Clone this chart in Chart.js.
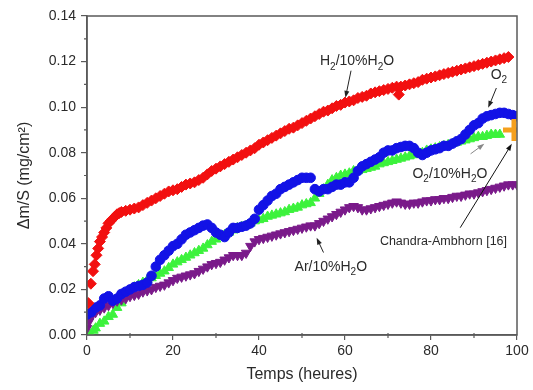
<!DOCTYPE html>
<html>
<head>
<meta charset="utf-8">
<script src="https://cdn.jsdelivr.net/npm/chart.js@4.4.1/dist/chart.umd.min.js"></script>
<style>
  html, body { margin: 0; padding: 0; background: #fff; }
  #wrap { width: 533px; height: 390px; }
</style>
</head>
<body>
<div id="wrap"><canvas id="chart" width="533" height="390"></canvas></div>
<script>
// [hours, mass gain mg/cm2]
const h2Points = [
  [0.3,0.014],[0.9,0.0225],[1.4,0.028],[1.8,0.031],[2.2,0.035],[2.6,0.038],[3,0.041],[3.5,0.043],
  [4,0.045],[4.5,0.047],[5,0.049],[5.5,0.05],[6,0.051],[6.5,0.052],[7,0.053],[7.5,0.0535],[8,0.054],
  [9,0.0545],[10,0.055],[11,0.0555],[12,0.056],[13,0.057],[14,0.058],[15,0.059],[16,0.06],[17,0.061],
  [18,0.062],[19,0.063],[20,0.0635],[21,0.064],[22,0.065],[23,0.066],[24,0.0665],[25,0.067],[26,0.068],
  [27,0.069],[28,0.0705],[29,0.072],[30,0.073],[31,0.074],[32,0.075],[33,0.076],[34,0.077],[35,0.078],
  [36,0.079],[37,0.08],[38,0.081],[39,0.082],[40,0.0835],[41,0.0845],[42,0.0855],[43,0.0865],[44,0.0875],
  [45,0.0885],[46,0.0895],[47,0.0905],[48,0.091],[49,0.092],[50,0.093],[51,0.094],[52,0.095],[53,0.096],
  [54,0.097],[55,0.098],[56,0.0985],[57,0.0995],[58,0.1005],[59,0.101],[60,0.102],[61,0.1025],[62,0.103],
  [63,0.104],[64,0.1045],[65,0.105],[66,0.106],[67,0.1065],[68,0.107],[69,0.1075],[70,0.108],[71,0.1085],
  [72,0.109],[72.5,0.1055],[73,0.109],[74,0.1095],[75,0.11],[76,0.1105],[77,0.111],[78,0.112],[79,0.1125],
  [80,0.113],[81,0.1135],[82,0.114],[83,0.1145],[84,0.115],[85,0.1155],[86,0.116],[87,0.1165],[88,0.117],
  [89,0.1175],[90,0.118],[91,0.1185],[92,0.119],[93,0.1195],[94,0.12],[95,0.1205],[96,0.121],[97,0.1215],[98,0.122]
];

const o2Points = [
  [0,0.009],[1,0.01],[2,0.012],[3,0.013],[4,0.016],[5,0.017],[6,0.015],[7,0.016],[8,0.018],[9,0.019],
  [10,0.02],[11,0.021],[12,0.0215],[13,0.022],[14,0.023],[15,0.026],[16,0.03],[17,0.033],[18,0.035],
  [19,0.037],[20,0.039],[21,0.04],[22,0.042],[23,0.044],[24,0.045],[25,0.046],[26,0.047],[27,0.048],
  [28,0.0485],[29,0.047],[30,0.045],[31,0.044],[32,0.043],[33,0.045],[34,0.047],[35,0.047],[36,0.0475],
  [37,0.048],[38,0.049],[39,0.051],[40,0.055],[41,0.057],[42,0.059],[43,0.061],[44,0.062],[45,0.064],
  [46,0.065],[47,0.066],[48,0.067],[49,0.068],[50,0.069],[51,0.069],[52,0.069],[53,0.064],[54,0.063],
  [55,0.064],[56,0.064],[57,0.065],[58,0.066],[59,0.066],[60,0.067],[61,0.067],[62,0.069],[63,0.072],
  [64,0.074],[65,0.075],[66,0.076],[67,0.077],[68,0.078],[69,0.08],[70,0.081],[71,0.081],[72,0.082],
  [73,0.0825],[74,0.083],[75,0.083],[76,0.082],[77,0.08],[78,0.079],[79,0.08],[80,0.081],[81,0.0815],
  [82,0.082],[83,0.083],[84,0.083],[85,0.084],[86,0.085],[87,0.086],[88,0.088],[89,0.09],[90,0.092],
  [91,0.093],[92,0.095],[93,0.096],[94,0.0965],[95,0.097],[96,0.0975],[97,0.0975],[98,0.097],[99,0.0965],[100,0.096]
];

const o2h2oPoints = [
  [0.8,0.0003],[1.5,0.002],[2,0.003],[3,0.005],[4,0.006],[5,0.008],[6,0.009],[7,0.012],[8,0.014],
  [9,0.017],[10,0.019],[11,0.021],[12,0.022],[13,0.023],[14,0.024],[15,0.025],[16,0.026],[17,0.027],
  [18,0.028],[19,0.0295],[20,0.031],[21,0.032],[22,0.033],[23,0.034],[24,0.035],[25,0.036],[26,0.037],
  [27,0.038],[28,0.0395],[29,0.041],[30,0.042],[31,0.043],[32,0.044],[33,0.045],[34,0.046],[35,0.047],
  [36,0.0475],[37,0.048],[38,0.049],[39,0.05],[40,0.0505],[41,0.051],[42,0.052],[43,0.0525],[44,0.053],
  [45,0.0535],[46,0.054],[47,0.055],[48,0.0555],[49,0.056],[50,0.057],[51,0.0575],[52,0.058],[53,0.06],
  [54,0.062],[55,0.064],[56,0.066],[57,0.068],[58,0.069],[59,0.07],[60,0.0705],[61,0.071],[62,0.072],
  [63,0.072],[64,0.0725],[65,0.073],[66,0.0735],[67,0.074],[68,0.075],[69,0.0755],[70,0.076],[71,0.0765],
  [72,0.077],[73,0.0775],[74,0.078],[75,0.0785],[76,0.079],[77,0.0795],[78,0.08],[79,0.081],[80,0.0815],
  [81,0.082],[82,0.0825],[83,0.083],[84,0.0835],[85,0.084],[86,0.0845],[87,0.085],[88,0.0855],[89,0.086],
  [90,0.0865],[91,0.087],[92,0.087],[93,0.0875],[94,0.088],[95,0.088],[96,0.088]
];

const arh2oPoints = [
  [0,0.003],[0.5,0.006],[1,0.008],[2,0.01],[3,0.011],[4,0.012],[5,0.013],[6,0.014],[7,0.015],[8,0.0155],
  [9,0.016],[10,0.017],[11,0.0175],[12,0.018],[13,0.019],[14,0.0195],[15,0.02],[16,0.021],[17,0.0215],
  [18,0.022],[19,0.023],[20,0.024],[21,0.025],[22,0.0255],[23,0.026],[24,0.0265],[25,0.027],[26,0.028],
  [27,0.029],[28,0.03],[29,0.031],[30,0.0315],[31,0.032],[32,0.033],[33,0.034],[34,0.035],[35,0.035],
  [36,0.035],[37,0.036],[38,0.039],[39,0.041],[40,0.042],[41,0.0425],[42,0.043],[43,0.0435],[44,0.044],
  [45,0.0445],[46,0.045],[47,0.0455],[48,0.046],[49,0.0465],[50,0.047],[51,0.0475],[52,0.048],[53,0.048],
  [54,0.049],[55,0.05],[56,0.051],[57,0.052],[58,0.053],[59,0.054],[60,0.055],[61,0.056],[62,0.0565],
  [63,0.056],[64,0.055],[65,0.055],[66,0.0555],[67,0.056],[68,0.0565],[69,0.057],[70,0.0575],[71,0.058],
  [72,0.0585],[73,0.058],[74,0.0575],[75,0.0575],[76,0.058],[77,0.058],[78,0.0585],[79,0.059],[80,0.059],
  [81,0.0595],[82,0.0595],[83,0.06],[84,0.06],[85,0.0605],[86,0.061],[87,0.061],[88,0.0615],[89,0.062],
  [90,0.062],[91,0.0625],[92,0.063],[93,0.0635],[94,0.064],[95,0.0645],[96,0.065],[97,0.0655],[98,0.066],
  [99,0.066],[100,0.066]
];

const chandraPoint = [[99.3, 0.090]];

const xTicks = [0, 20, 40, 60, 80, 100];
const xMinor = [10, 30, 50, 70, 90];
const yMinor = [0.01, 0.03, 0.05, 0.07, 0.09, 0.11, 0.13];

const COLORS = {
  h2: "#f21010",
  o2: "#1212e6",
  o2h2o: "#3cf23c",
  ar: "#7a1a8a",
  chandra: "#f5a01e",
  axis: "#5a5a5a",
  text: "#2a2a2a",
};

const FONT = '"Liberation Sans", Arial, sans-serif';

// annotation texts: [text, isSubscript] segments, anchored in data coordinates
const LABELS = [
  { parts: [["H", 0], ["2", 1], ["/10%H", 0], ["2", 1], ["O", 0]], x: 62.8, y: 0.1205, size: 14,
    arrow: [61.4, 0.116, 60.1, 0.1041], arrowColor: "#222" },
  { parts: [["O", 0], ["2", 1]], x: 95.8, y: 0.1146, size: 14,
    arrow: [95.2, 0.1084, 93.3, 0.0997], arrowColor: "#222" },
  { parts: [["O", 0], ["2", 1], ["/10%H", 0], ["2", 1], ["O", 0]], x: 84.4, y: 0.0712, size: 14,
    arrow: [89.2, 0.0795, 92.4, 0.0839], arrowColor: "#888" },
  { parts: [["Chandra-Ambhorn [16]", 0]], x: 82.9, y: 0.0414, size: 12.5,
    arrow: [86.8, 0.0471, 98.8, 0.0839], arrowColor: "#111" },
  { parts: [["Ar/10%H", 0], ["2", 1], ["O", 0]], x: 56.7, y: 0.0305, size: 14,
    arrow: [55.0, 0.0362, 53.4, 0.0427], arrowColor: "#222" },
];

const toXY = (pts) => pts.map(([x, y]) => ({ x, y }));

function drawRich(ctx, parts, cx, cy, size) {
  const big = `${size}px ${FONT}`;
  const small = `${Math.round(size * 0.7)}px ${FONT}`;
  let total = 0;
  parts.forEach(([t, sub]) => { ctx.font = sub ? small : big; total += ctx.measureText(t).width; });
  let x = cx - total / 2;
  const base = cy + size * 0.36;
  ctx.textAlign = "left";
  ctx.textBaseline = "alphabetic";
  parts.forEach(([t, sub]) => {
    ctx.font = sub ? small : big;
    ctx.fillText(t, x, sub ? base + size * 0.3 : base);
    x += ctx.measureText(t).width;
  });
}

function drawArrow(ctx, x1, y1, x2, y2, color) {
  const ang = Math.atan2(y2 - y1, x2 - x1);
  const len = 7, half = 2.5;
  ctx.strokeStyle = color;
  ctx.fillStyle = color;
  ctx.lineWidth = 1;
  ctx.beginPath();
  ctx.moveTo(x1, y1);
  ctx.lineTo(x2 - Math.cos(ang) * len * 0.8, y2 - Math.sin(ang) * len * 0.8);
  ctx.stroke();
  ctx.beginPath();
  ctx.moveTo(x2, y2);
  ctx.lineTo(x2 - Math.cos(ang) * len - Math.sin(ang) * half, y2 - Math.sin(ang) * len + Math.cos(ang) * half);
  ctx.lineTo(x2 - Math.cos(ang) * len + Math.sin(ang) * half, y2 - Math.sin(ang) * len - Math.cos(ang) * half);
  ctx.closePath();
  ctx.fill();
}

const framePlugin = {
  id: "frame",
  afterDraw(chart) {
    const { ctx, chartArea: a, scales: { x, y } } = chart;
    ctx.save();
    ctx.strokeStyle = COLORS.axis;
    ctx.lineWidth = 1.5;
    ctx.strokeRect(a.left, a.top, a.right - a.left, a.bottom - a.top);
    ctx.lineWidth = 1.2;
    ctx.beginPath();
    yMinor.forEach((v) => {
      const py = y.getPixelForValue(v);
      ctx.moveTo(a.left - 3, py);
      ctx.lineTo(a.left, py);
    });
    xMinor.forEach((v) => {
      const px = x.getPixelForValue(v);
      ctx.moveTo(px, a.bottom - 2);
      ctx.lineTo(px, a.bottom + 3);
    });
    ctx.stroke();

    LABELS.forEach((l) => {
      const [ax1, ay1, ax2, ay2] = l.arrow;
      drawArrow(ctx, x.getPixelForValue(ax1), y.getPixelForValue(ay1),
        x.getPixelForValue(ax2), y.getPixelForValue(ay2), l.arrowColor);
      ctx.fillStyle = COLORS.text;
      drawRich(ctx, l.parts, x.getPixelForValue(l.x), y.getPixelForValue(l.y), l.size);
    });
    ctx.restore();
  },
};

const series = (label, pts, color, style, radius, order, extra = {}) => ({
  label,
  data: toXY(pts),
  showLine: false,
  pointStyle: style,
  pointRadius: radius,
  pointBackgroundColor: color,
  pointBorderColor: color,
  pointBorderWidth: 1,
  order,
  ...extra,
});

new Chart(document.getElementById("chart"), {
  type: "scatter",
  data: {
    datasets: [
      series("Chandra-Ambhorn [16]", chandraPoint, COLORS.chandra, "cross", 11, 0, { pointBorderWidth: 5 }),
      series("H2/10%H2O", h2Points, COLORS.h2, "rectRot", 5.5, 1),
      series("O2", o2Points, COLORS.o2, "circle", 4.8, 2),
      series("Ar/10%H2O", arh2oPoints, COLORS.ar, "triangle", 5.5, 3, { pointRotation: 180 }),
      series("O2/10%H2O", o2h2oPoints, COLORS.o2h2o, "triangle", 5.5, 4),
    ],
  },
  options: {
    responsive: false,
    animation: false,
    devicePixelRatio: 1,
    layout: { padding: { top: 15, right: 13, left: 0, bottom: 0 } },
    plugins: { legend: { display: false }, tooltip: { enabled: false } },
    scales: {
      x: {
        type: "linear",
        min: 0,
        max: 100,
        afterBuildTicks: (s) => { s.ticks = xTicks.map((v) => ({ value: v })); },
        afterFit: (s) => { s.height = 55; },
        grid: { drawOnChartArea: false, tickLength: 5, color: COLORS.axis, lineWidth: 1.2 },
        border: { color: COLORS.axis, width: 1.5 },
        ticks: { color: COLORS.text, font: { family: FONT, size: 14 }, padding: 3, maxRotation: 0 },
        title: { display: true, text: "Temps (heures)", color: COLORS.text,
          font: { family: FONT, size: 16 }, padding: { top: 0, bottom: 6 } },
      },
      y: {
        type: "linear",
        min: 0,
        max: 0.14,
        ticks: { stepSize: 0.02, color: COLORS.text, font: { family: FONT, size: 14 }, padding: 5,
          callback: (v) => v.toFixed(2) },
        afterFit: (s) => { s.width = 87; },
        grid: { drawOnChartArea: false, tickLength: 6, color: COLORS.axis, lineWidth: 1.2 },
        border: { color: COLORS.axis, width: 1.5 },
        title: { display: true, text: "Δm/S (mg/cm²)", color: COLORS.text,
          font: { family: FONT, size: 16 }, padding: { top: 15, bottom: 0 } },
      },
    },
  },
  plugins: [framePlugin],
});
</script>
</body>
</html>
